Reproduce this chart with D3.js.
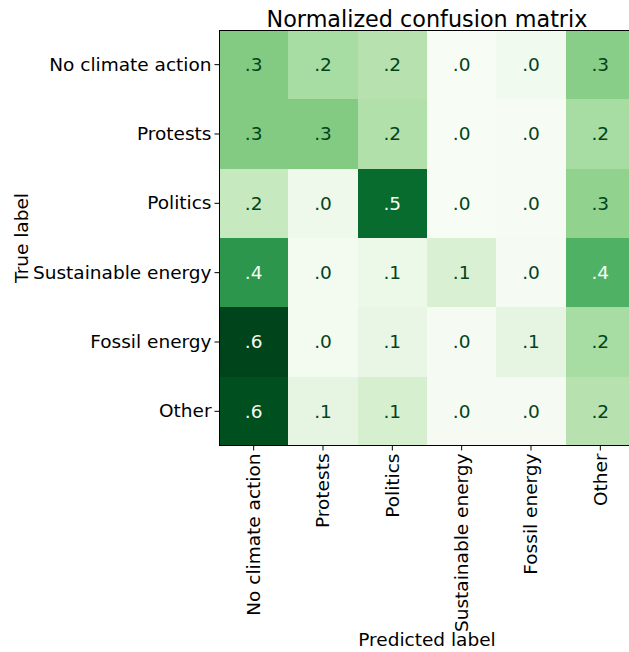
<!DOCTYPE html>
<html>
<head>
<meta charset="utf-8">
<script src="https://cdn.jsdelivr.net/npm/d3@7"></script>
<style>
  html, body { margin: 0; padding: 0; background: #fff; }
  svg { display: block; font-family: "DejaVu Sans", sans-serif; }
</style>
</head>
<body>
<svg id="chart" width="629" height="652"></svg>
<script>
// Class names shared by both axes
const trueLabels = ["No climate action", "Protests", "Politics", "Sustainable energy", "Fossil energy", "Other"];
const predictedLabels = ["No climate action", "Protests", "Politics", "Sustainable energy", "Fossil energy", "Other"];

// Row-normalized confusion matrix, one array per true label
const rowNoClimateAction  = [0.285, 0.220, 0.190, 0.004, 0.030, 0.275];
const rowProtests         = [0.285, 0.285, 0.200, 0.003, 0.006, 0.220];
const rowPolitics         = [0.155, 0.040, 0.540, 0.003, 0.006, 0.260];
const rowSustainable      = [0.440, 0.020, 0.050, 0.110, 0.010, 0.370];
const rowFossil           = [0.620, 0.020, 0.060, 0.010, 0.070, 0.220];
const rowOther            = [0.600, 0.070, 0.120, 0.010, 0.010, 0.190];
const matrix = [rowNoClimateAction, rowProtests, rowPolitics, rowSustainable, rowFossil, rowOther];

const titleText = "Normalized confusion matrix";
const xTitle = "Predicted label";
const yTitle = "True label";

const svg = d3.select("#chart");
const plotLeft = 219, plotTop = 30, cell = 69.33;
const plotRight = plotLeft + cell * predictedLabels.length;
const plotBottom = plotTop + cell * trueLabels.length;

const x = d3.scaleBand().domain(predictedLabels.map((d, i) => i)).range([plotLeft, plotRight]);
const y = d3.scaleBand().domain(trueLabels.map((d, i) => i)).range([plotTop, plotBottom]);

const flat = matrix.flat();
const [vmin, vmax] = d3.extent(flat);
const color = d3.scaleSequential(d3.interpolateGreens).domain([vmin, vmax]);
const thresh = (vmin + vmax) / 2;

const cells = matrix.flatMap((row, r) => row.map((v, c) => ({ r, c, v })));

svg.append("g")
  .selectAll("rect")
  .data(cells)
  .join("rect")
  .attr("x", d => x(d.c))
  .attr("y", d => y(d.r))
  .attr("width", x.bandwidth())
  .attr("height", y.bandwidth())
  .attr("fill", d => color(d.v))
  .attr("shape-rendering", "crispEdges");

const fmt = v => d3.format(".1f")(v).replace(/^0\./, ".");

svg.append("g")
  .selectAll("text")
  .data(cells)
  .join("text")
  .attr("x", d => x(d.c) + x.bandwidth() / 2)
  .attr("y", d => y(d.r) + y.bandwidth() / 2)
  .attr("text-anchor", "middle")
  .attr("dominant-baseline", "central")
  .attr("font-size", "18.5px")
  .attr("fill", d => d.v > thresh ? color(vmin) : color(vmax))
  .text(d => fmt(d.v));

// Frame
svg.append("rect")
  .attr("x", plotLeft).attr("y", plotTop)
  .attr("width", plotRight - plotLeft).attr("height", plotBottom - plotTop)
  .attr("fill", "none").attr("stroke", "#000").attr("stroke-width", 1)
  .attr("shape-rendering", "crispEdges");

// Axes
const yAxis = d3.axisLeft(y).tickSize(4.5).tickPadding(3).tickFormat(i => trueLabels[i]);
const gy = svg.append("g").attr("transform", `translate(${plotLeft},0)`).call(yAxis);
gy.select(".domain").remove();
gy.selectAll("text").attr("font-size", "18.5px").attr("fill", "#000").attr("font-family", "DejaVu Sans");

const xAxis = d3.axisBottom(x).tickSize(4.5).tickPadding(3).tickFormat(i => predictedLabels[i]);
const gx = svg.append("g").attr("transform", `translate(0,${plotBottom})`).call(xAxis);
gx.select(".domain").remove();
gx.selectAll("text")
  .attr("font-size", "18.5px").attr("fill", "#000").attr("font-family", "DejaVu Sans")
  .attr("transform", "rotate(-90)")
  .attr("text-anchor", "end")
  .attr("x", -7.5)
  .attr("y", 0)
  .attr("dy", "0.35em");

// Titles
svg.append("text")
  .attr("x", (plotLeft + plotRight) / 2).attr("y", 26.5)
  .attr("text-anchor", "middle").attr("font-size", "22.3px")
  .text(titleText);

svg.append("text")
  .attr("x", (plotLeft + plotRight) / 2).attr("y", 646)
  .attr("text-anchor", "middle").attr("font-size", "18.5px")
  .text(xTitle);

svg.append("text")
  .attr("transform", `translate(28,${(plotTop + plotBottom) / 2}) rotate(-90)`)
  .attr("text-anchor", "middle").attr("font-size", "18.5px")
  .text(yTitle);
</script>
</body>
</html>
